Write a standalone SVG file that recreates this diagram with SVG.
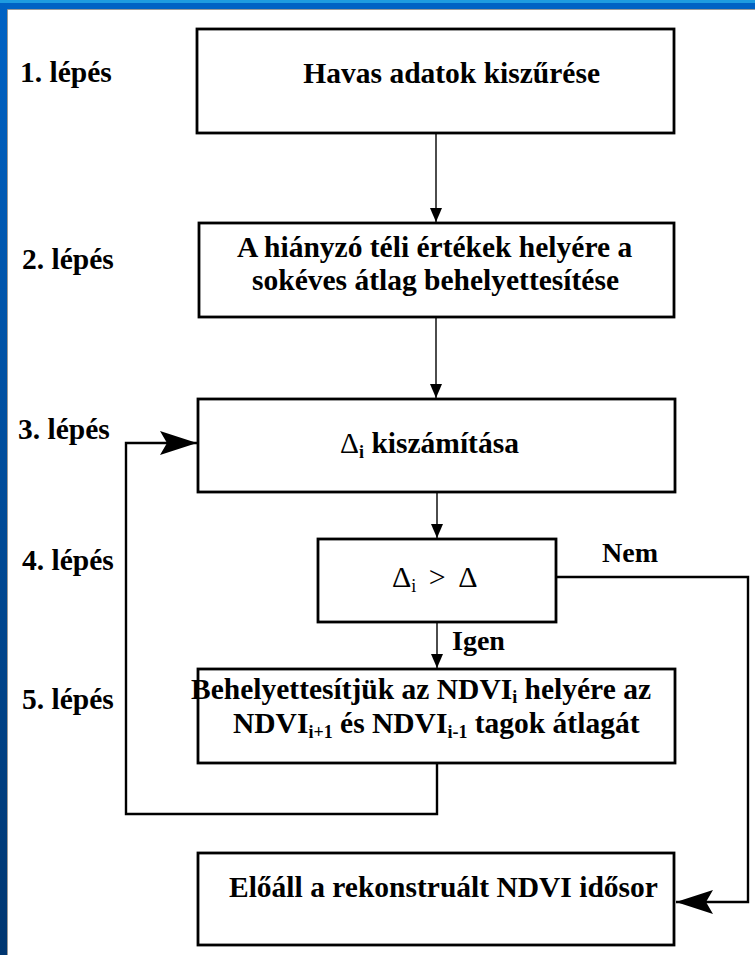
<svg xmlns="http://www.w3.org/2000/svg" width="755" height="955" viewBox="0 0 755 955">
<defs>
<linearGradient id="lb" x1="0" y1="0" x2="0" y2="1">
<stop offset="0" stop-color="#0062c4"/>
<stop offset="1" stop-color="#003670"/>
</linearGradient>
<marker id="sm" viewBox="0 0 14 12" refX="14" refY="6" markerWidth="14" markerHeight="12" orient="auto" markerUnits="userSpaceOnUse">
<path d="M0,0 L14,6 L0,12 z" fill="#000"/>
</marker>
<marker id="big" viewBox="0 0 37 24" refX="37" refY="12" markerWidth="37" markerHeight="24" orient="auto" markerUnits="userSpaceOnUse">
<path d="M0,0 L37,12 L0,24 L7,12 z" fill="#000"/>
</marker>
</defs>
<style>
.box{fill:#fff;stroke:#000;stroke-width:2.8}
.t{font-family:"Liberation Serif","Times New Roman",serif;font-weight:bold;font-size:29.5px;fill:#000}
.s{font-size:28px}
.r{font-weight:normal}
.sub{font-size:18px}
.thin{stroke:#000;stroke-width:1.4;fill:none}
.thick{stroke:#000;stroke-width:2.4;fill:none}
</style>
<rect x="0" y="0" width="755" height="955" fill="#0062c4"/>
<rect x="0" y="0" width="755" height="3" fill="#1e9be0"/>
<rect x="0" y="3" width="8" height="952" fill="url(#lb)"/>
<rect x="8" y="10" width="747" height="945" fill="#fff"/>
<path d="M7.5,955 V9.5 H755" stroke="#9a9a9a" stroke-width="1" fill="none"/>

<g id="labels">
<text class="t" x="20" y="82">1. lépés</text>
<text class="t" x="22" y="269">2. lépés</text>
<text class="t" x="18" y="439">3. lépés</text>
<text class="t" x="22" y="570">4. lépés</text>
<text class="t" x="22" y="709">5. lépés</text>
</g>

<g id="connectors">
<path class="thin" d="M436,133 V222" marker-end="url(#sm)"/>
<path class="thin" d="M436,317 V398" marker-end="url(#sm)"/>
<path class="thin" d="M437,492 V538" marker-end="url(#sm)"/>
<path class="thin" d="M437,622 V668" marker-end="url(#sm)"/>
<path class="thick" d="M437,763 V814 H126 V443 H197" marker-end="url(#big)"/>
<path class="thick" d="M556,577 H748 V902 H676" marker-end="url(#big)"/>
<text class="t s" x="602" y="562">Nem</text>
<text class="t s" x="452" y="650">Igen</text>
</g>

<g id="n1">
<rect class="box" x="197" y="29" width="477" height="104"/>
<text class="t" x="600" y="83" text-anchor="end">Havas adatok kiszűrése</text>
</g>
<g id="n2">
<rect class="box" x="199" y="223" width="475" height="94"/>
<text class="t" x="237" y="257">A hiányzó téli értékek helyére a</text>
<text class="t" x="252" y="290">sokéves átlag behelyettesítése</text>
</g>
<g id="n3">
<rect class="box" x="198" y="399" width="477" height="93"/>
<text class="t" x="340" y="453"><tspan class="r">Δ</tspan><tspan class="sub" dy="5">i</tspan><tspan dy="-5"> kiszámítása</tspan></text>
</g>
<g id="n4">
<rect class="box" x="318" y="539" width="238" height="83"/>
<text class="t r" x="392" y="587" style="font-size:30px;word-spacing:5px">Δ<tspan class="sub" dy="5">i</tspan><tspan dy="-5"> &gt; Δ</tspan></text>
</g>
<g id="n5">
<rect class="box" x="198" y="669" width="477" height="94"/>
<text class="t" x="191" y="699">Behelyettesítjük az NDVI<tspan class="sub" dy="4">i</tspan><tspan dy="-4"> helyére az</tspan></text>
<text class="t" x="233" y="733">NDVI<tspan class="sub" dy="5">i+1</tspan><tspan dy="-5"> és NDVI</tspan><tspan class="sub" dy="5">i-1</tspan><tspan dy="-5"> tagok átlagát</tspan></text>
</g>
<g id="n6">
<rect class="box" x="198" y="853" width="476" height="92"/>
<text class="t" x="229" y="897">Előáll a rekonstruált NDVI idősor</text>
</g>
</svg>
